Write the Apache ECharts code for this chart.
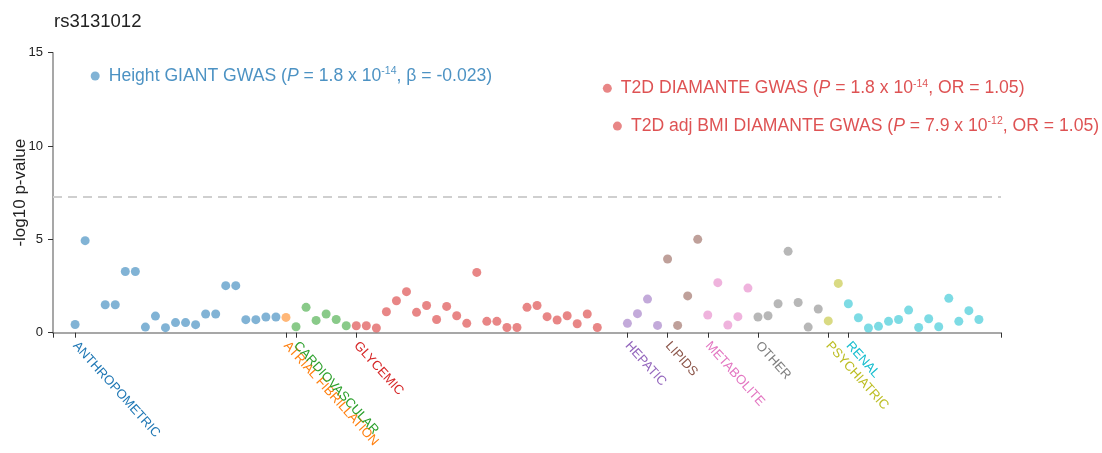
<!DOCTYPE html>
<html>
<head>
<meta charset="utf-8">
<script src="https://cdn.jsdelivr.net/npm/echarts@6/dist/echarts.min.js"></script>
<style>
html,body{margin:0;padding:0;background:#fff;}
#chart{width:1102px;height:453px;}
</style>
</head>
<body>
<div id="chart"></div>
<script>
// ---- data ----
const categories = ['ANTHROPOMETRIC','ATRIAL FIBRILLATION','CARDIOVASCULAR','GLYCEMIC','HEPATIC','LIPIDS','METABOLITE','OTHER','PSYCHIATRIC','RENAL'];
const anthropometric = [0.44,4.93,13.75,1.50,1.50,3.28,3.28,0.30,0.89,0.27,0.54,0.54,0.43,1.00,1.00,2.52,2.52,0.70,0.70,0.84,0.84];
const atrialFibrillation = [0.82];
const cardiovascular = [0.32,1.36,0.66,1.00,0.71,0.37];
const glycemic = [0.37,0.37,0.25,1.12,1.71,2.20,1.09,1.46,0.71,1.41,0.91,0.50,3.23,0.61,0.61,0.28,0.28,1.36,1.46,0.86,0.68,0.91,0.48,1.00,0.28,13.09,11.07];
const hepatic = [0.50,1.02,1.80,0.39];
const lipids = [3.95,0.39,1.97,5.00];
const metabolite = [0.95,2.68,0.41,0.86,2.39];
const other = [0.84,0.91,1.55,4.36,1.62,0.30,1.27];
const psychiatric = [0.63,2.64];
const renal = [1.55,0.80,0.25,0.34,0.61,0.71,1.21,0.28,0.75,0.32,1.84,0.61,1.18,0.71];
const seriesValues = [anthropometric,atrialFibrillation,cardiovascular,glycemic,hepatic,lipids,metabolite,other,psychiatric,renal];

// annotated points: category, position within category, texts
const annoCategory = ['ANTHROPOMETRIC','GLYCEMIC','GLYCEMIC'];
const annoPosition = [2, 25, 26];
const annoName = ['Height GIANT GWAS','T2D DIAMANTE GWAS','T2D adj BMI DIAMANTE GWAS'];
const annoP = ['1.8','1.8','7.9'];
const annoExp = ['-14','-14','-12'];
const annoEffect = ['β = -0.023','OR = 1.05','OR = 1.05'];

const threshold = 7.3;
const yTicks = [0,5,10,15];

// ---- styling ----
const textColors = ['#1f77b4','#ff7f0e','#2ca02c','#d62728','#9467bd','#8c564b','#e377c2','#7f7f7f','#bcbd22','#17becf'];
const FONT = '"Liberation Sans", Arial, Helvetica, sans-serif';
function fade(hex, a) {
  const r = parseInt(hex.slice(1,3),16), g = parseInt(hex.slice(3,5),16), b = parseInt(hex.slice(5,7),16);
  return 'rgba(' + r + ',' + g + ',' + b + ',' + a + ')';
}

// build positions
let idx = 0;
const starts = [];
const series = [];
let totalN = 0;
seriesValues.forEach(v => totalN += v.length);
seriesValues.forEach((vals, c) => {
  starts.push(idx);
  const col = textColors[c];
  const data = vals.map((v, j) => {
    const item = { value: [idx + j, v] };
    const a = annoCategory.findIndex((cat, k) => cat === categories[c] && annoPosition[k] === j);
    if (a >= 0) {
      item.label = {
        show: true,
        position: 'right',
        distance: 9,
        formatter: '{t|' + annoName[a] + ' (}{i|P}{t| = ' + annoP[a] + ' x 10}{s|' + annoExp[a] + '}{t|, ' + annoEffect[a] + ')}',
        rich: {
          t: { fontSize: 17.6, color: col, fontFamily: FONT, lineHeight: 20 },
          i: { fontSize: 17.6, color: col, fontFamily: FONT, fontStyle: 'italic', lineHeight: 20 },
          s: { fontSize: 10.5, color: col, fontFamily: FONT, verticalAlign: 'top', lineHeight: 20, padding: [0, 0, 7, 0] }
        }
      };
    }
    return item;
  });
  idx += vals.length;
  const s = {
    type: 'scatter',
    name: categories[c],
    data: data,
    symbolSize: 9,
    itemStyle: { color: fade(col, 0.7) },
    emphasis: { disabled: true },
    z: 3
  };
  if (c === 0) {
    s.markLine = {
      silent: true,
      symbol: 'none',
      label: { show: false },
      lineStyle: { color: '#cfcfcf', type: [9, 6], width: 2 },
      data: [{ yAxis: threshold }]
    };
  }
  series.push(s);
});

const xMin = -2.2, xMax = totalN - 1 + 2.2;
const labelAt = {};
starts.forEach((s, c) => labelAt[s] = c);

const chart = echarts.init(document.getElementById('chart'), null, { renderer: 'canvas' });
chart.setOption({
  animation: false,
  backgroundColor: '#fff',
  title: {
    text: 'rs3131012', left: 49, top: 7,
    textStyle: { fontFamily: FONT, fontSize: 18.5, fontWeight: 'normal', color: '#222' }
  },
  grid: { left: 53, right: 101, top: 52.7, bottom: 120.3, containLabel: false, outerBoundsMode: 'none' },
  xAxis: {
    type: 'value', min: xMin, max: xMax,
    splitLine: { show: false },
    axisLine: { show: true, onZero: false, lineStyle: { color: '#8a8a8a', width: 1.5 } },
    axisTick: { show: true, length: 5, lineStyle: { color: '#333', width: 1 }, customValues: [xMin].concat(starts, [xMax]) },
    axisLabel: {
      customValues: starts,
      rotate: -48, margin: 11,
      fontFamily: FONT, fontSize: 13,
      formatter: v => categories[labelAt[Math.round(v)]] || '',
      color: v => textColors[labelAt[Math.round(v)]] || '#000'
    }
  },
  yAxis: {
    type: 'value', min: 0, max: 15, interval: 5,
    name: '-log10 p-value', nameLocation: 'middle', nameGap: 24, nameMoveOverlap: false,
    nameTextStyle: { fontFamily: FONT, fontSize: 17, color: '#222' },
    splitLine: { show: false },
    axisLine: { show: true, onZero: false, lineStyle: { color: '#8a8a8a', width: 1.5 } },
    axisTick: { show: true, length: 5, lineStyle: { color: '#333', width: 1 } },
    axisLabel: { fontFamily: FONT, fontSize: 13, color: '#222', margin: 10,
      customValues: yTicks }
  },
  series: series
});
</script>
</body>
</html>
